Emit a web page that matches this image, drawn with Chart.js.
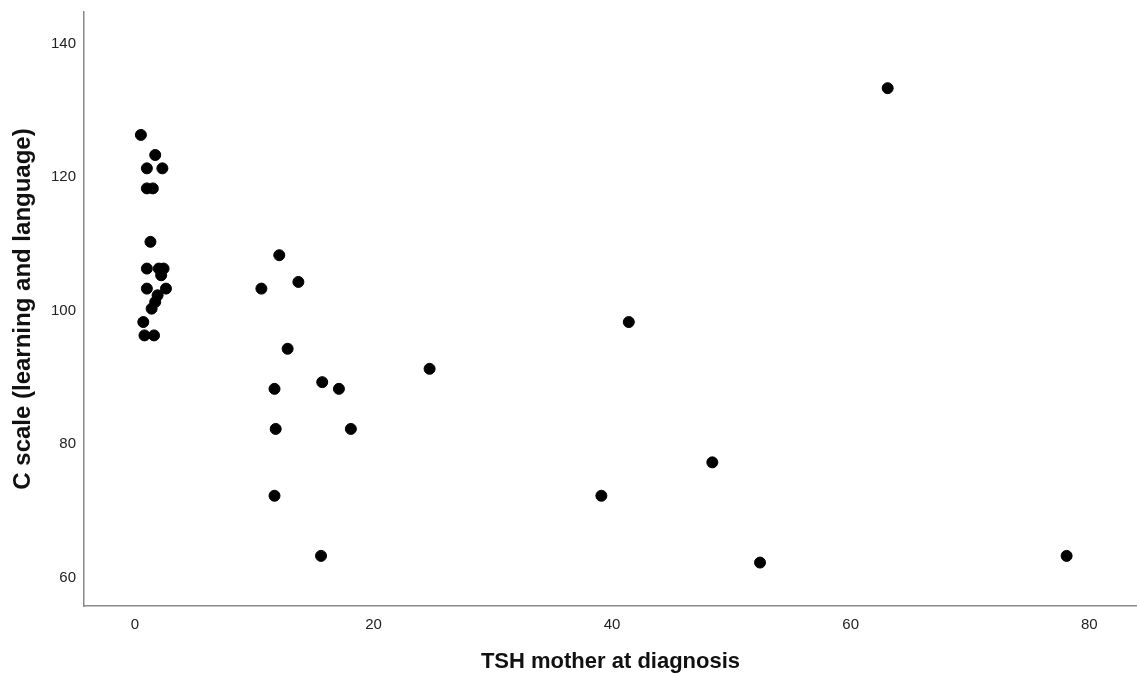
<!DOCTYPE html>
<html>
<head>
<meta charset="utf-8">
<script src="https://cdn.jsdelivr.net/npm/chart.js@4/dist/chart.umd.min.js"></script>
<style>
	body { margin: 0; background: #fff; }
	#wrap { width: 1137px; height: 674px; }
</style>
</head>
<body>
<div id="wrap"><canvas id="scatterChart" width="1137" height="674"></canvas></div>
<script>
// values
const tshMother = [
	0.5, 1.7, 1.0, 2.3, 1.0, 1.5, 1.3, 1.0, 2.0, 2.4, 2.2, 1.0, 2.6, 1.9, 1.7, 1.4, 0.7, 0.8, 1.6,
	12.1, 10.6, 13.7, 12.8, 11.7, 15.7, 17.1, 11.8, 18.1, 11.7, 15.6,
	24.7, 41.4, 39.1, 48.4, 52.4, 63.1, 78.1
];
const cScale = [
	126, 123, 121, 121, 118, 118, 110, 106, 106, 106, 105, 103, 103, 102, 101, 100, 98, 96, 96,
	108, 103, 104, 94, 88, 89, 88, 82, 82, 72, 63,
	91, 98, 72, 77, 62, 133, 63
];
const xTicks = [0, 20, 40, 60, 80];
const yTicks = [60, 80, 100, 120, 140];

const xTitle = 'TSH mother at diagnosis';
const yTitle = 'C scale (learning and language)';

function buildPoints() {
	var pts = [];
	for (var i = 0; i < tshMother.length; i++) {
		pts.push({ x: tshMother[i], y: cScale[i] });
	}
	return pts;
}

// no extra room for tick labels at the axis ends
function noEdgePadding(axis) {
	axis.paddingTop = 0;
	axis.paddingBottom = 0;
	axis.paddingLeft = 0;
	axis.paddingRight = 0;
}

Chart.defaults.font.family = '"Liberation Sans", Arial, sans-serif';

var ctx = document.getElementById('scatterChart').getContext('2d');
var chart = new Chart(ctx, {
	type: 'scatter',
	data: {
		datasets: [
			{
				data: buildPoints(),
				backgroundColor: '#000',
				borderColor: '#000',
				pointRadius: 5.5,
				pointHoverRadius: 5.5
			}
		]
	},
	options: {
		responsive: false,
		animation: false,
		layout: { autoPadding: false, padding: { top: 12, right: 0, bottom: 0, left: 0 } },
		plugins: {
			legend: { display: false },
			tooltip: { enabled: false }
		},
		scales: {
			x: {
				type: 'linear',
				min: -4.27,
				max: 84.0,
				afterBuildTicks: function(axis) {
					axis.ticks = xTicks.map(function(v) { return { value: v }; });
				},
				afterFit: function(axis) {
					axis.height = 68;
					noEdgePadding(axis);
				},
				grid: { display: false, drawTicks: false },
				border: { display: true, color: '#8a8a8a', width: 1.5 },
				ticks: { padding: 10, color: '#222', font: { size: 15 }, maxRotation: 0 },
				title: {
					display: true,
					text: xTitle,
					color: '#111',
					font: { size: 22, weight: 'bold' },
					padding: { top: 0, bottom: -1 }
				}
			},
			y: {
				type: 'linear',
				min: 55.5,
				max: 144.4,
				afterBuildTicks: function(axis) {
					axis.ticks = yTicks.map(function(v) { return { value: v }; });
				},
				afterFit: function(axis) {
					axis.width = 84;
					noEdgePadding(axis);
				},
				grid: { display: false, drawTicks: false },
				border: { display: true, color: '#8a8a8a', width: 1.5 },
				ticks: { padding: 8, labelOffset: 2, color: '#222', font: { size: 15 } },
				title: {
					display: true,
					text: yTitle,
					color: '#111',
					font: { size: 24, weight: 'bold' },
					padding: { top: 9, bottom: 0 }
				}
			}
		}
	}
});
</script>
</body>
</html>
